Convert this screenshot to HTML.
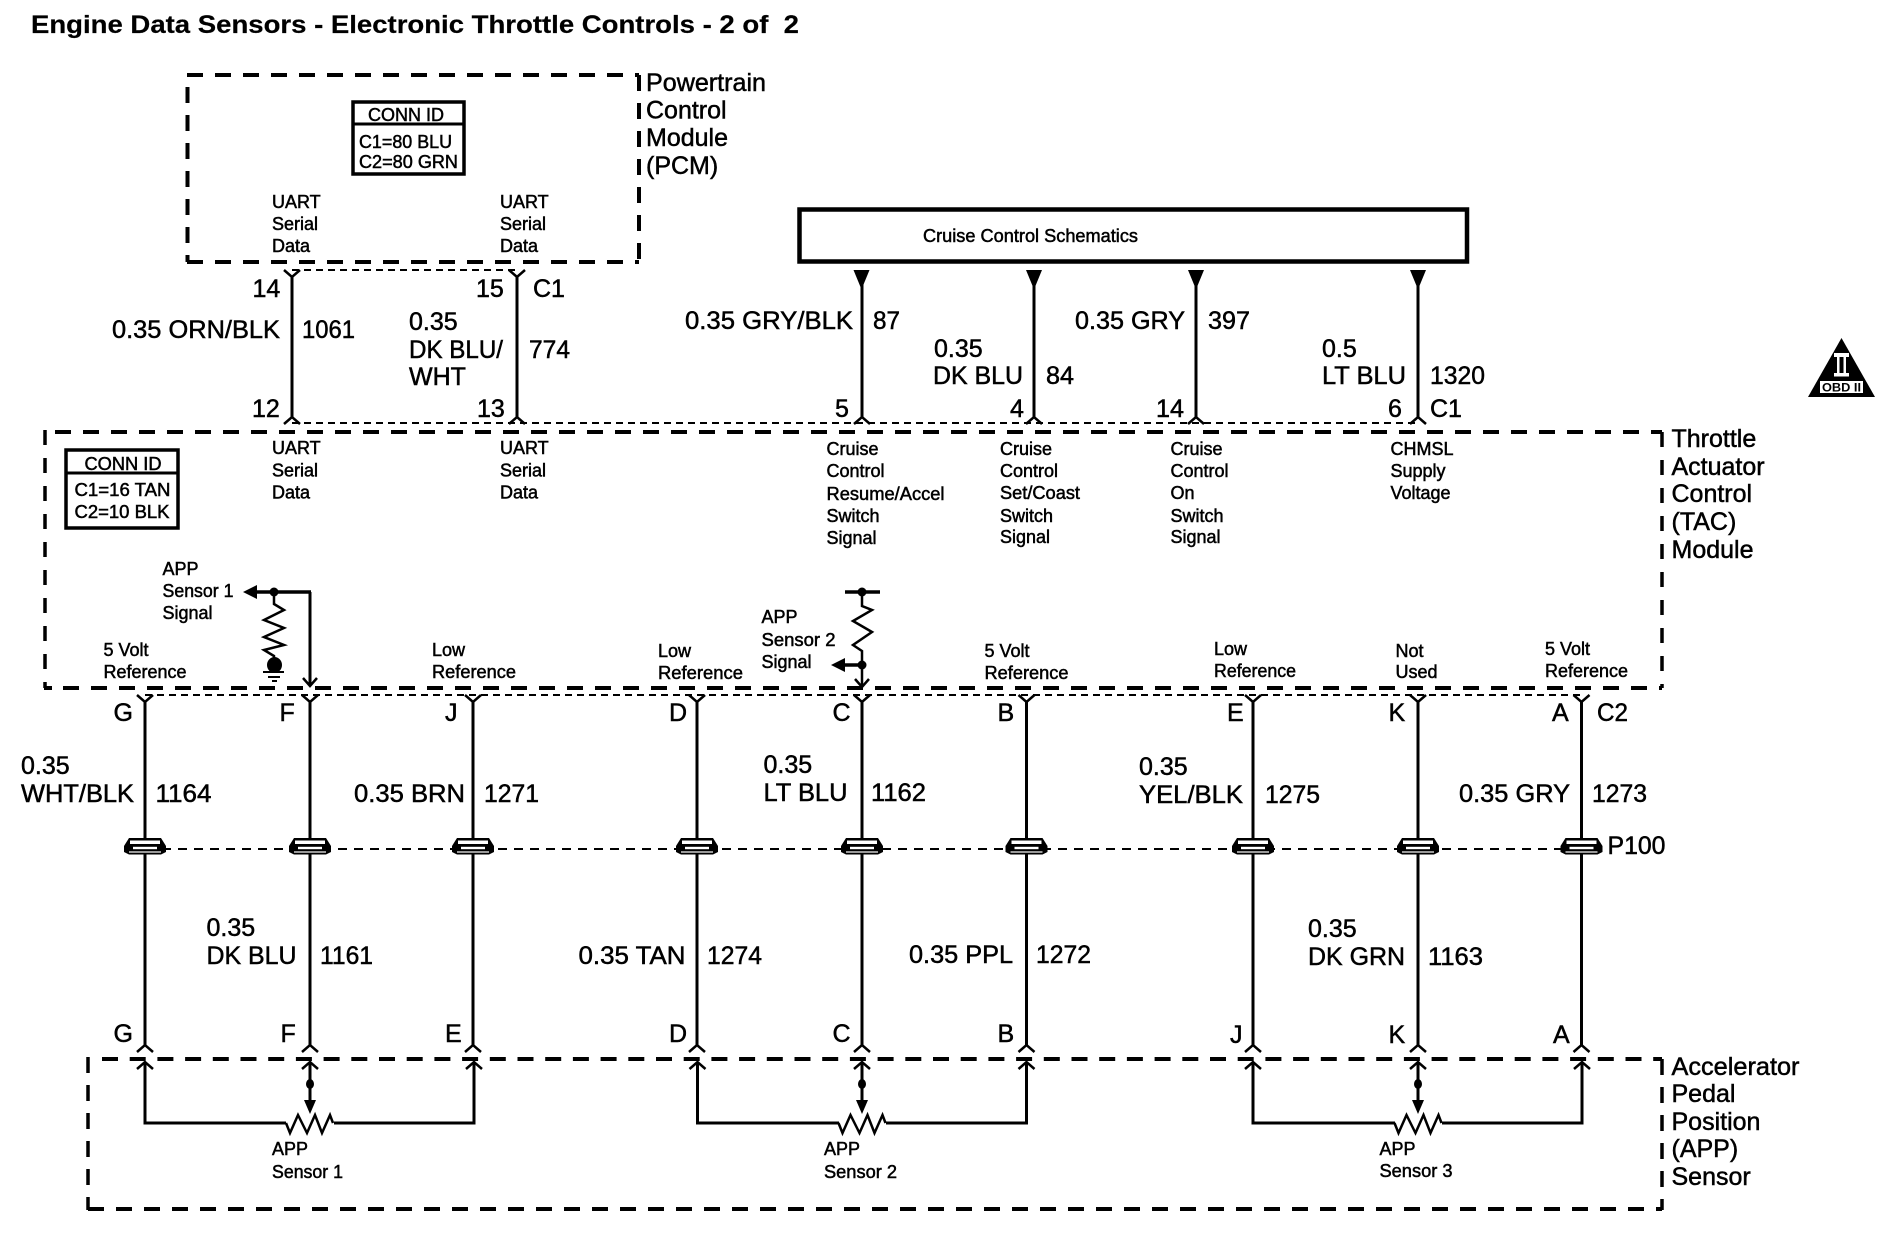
<!DOCTYPE html>
<html lang="en">
<head>
<meta charset="utf-8">
<title>Engine Data Sensors - Electronic Throttle Controls - 2 of 2</title>
<style>
html,body{margin:0;padding:0;background:#fff;width:1890px;height:1248px;overflow:hidden}
svg{display:block}
text{font-family:"Liberation Sans",Arial,sans-serif;fill:#000;stroke:#000;stroke-width:.5;white-space:pre}
.b{font-size:25px}
.s{font-size:18px}
.t{font-size:25px;font-weight:bold;stroke-width:.2}
.o{font-size:12px;font-weight:bold;stroke-width:0}
.box{fill:none;stroke:#000;stroke-width:4;stroke-dasharray:16 12}
.dot{fill:none;stroke:#000;stroke-width:2;stroke-dasharray:7 5}
.dot2{fill:none;stroke:#000;stroke-width:2;stroke-dasharray:9 7}
.w{fill:none;stroke:#000;stroke-width:3}
.n{fill:none;stroke:#000;stroke-width:2.5}
.h{fill:none;stroke:#000;stroke-width:3.5}
</style>
</head>
<body>
<svg width="1890" height="1248" viewBox="0 0 1890 1248" xmlns="http://www.w3.org/2000/svg">
<defs>
<g id="yc"><path class="n" d="M-8 0L0 7L8 0"/></g>
<g id="ac"><path class="n" d="M-8 7L0 0L8 7"/></g>
<g id="sp">
<path d="M-16 -11H16L21 -3V3L16 5.5H-16L-21 3V-3Z" fill="#000"/>
<rect x="-15" y="-8.5" width="30" height="3.5" fill="#fff"/>
<rect x="-12" y="-2.2" width="24" height="2.4" fill="#fff"/>
<rect x="-16" y="2.4" width="32" height="1.2" fill="#fff"/>
</g>
<g id="fa"><path d="M-8 -13H8L1 4H-1Z" fill="#000"/></g>
<g id="zz"><path class="n" d="M-24 0L-20 10L-12 -8L-3 10L5 -8L12 10L20 -8L23 0"/></g>
</defs>

<!-- Title -->
<text class="t" x="31" y="33" textLength="768" lengthAdjust="spacingAndGlyphs">Engine Data Sensors - Electronic Throttle Controls - 2 of  2</text>

<!-- PCM box -->
<line class="box" x1="187" y1="75" x2="639" y2="75"/>
<line class="box" x1="187" y1="262" x2="639" y2="262"/>
<line class="box" x1="187.5" y1="87" x2="187.5" y2="262"/>
<line class="box" x1="639" y1="75" x2="639" y2="262"/>
<text class="b" x="646" y="91" textLength="120" lengthAdjust="spacingAndGlyphs">Powertrain</text>
<text class="b" x="646" y="118.5">Control</text>
<text class="b" x="646" y="146">Module</text>
<text class="b" x="646" y="174">(PCM)</text>
<rect x="353" y="102" width="111" height="72" fill="none" stroke="#000" stroke-width="3.5"/>
<line x1="353" y1="124" x2="464" y2="124" stroke="#000" stroke-width="3"/>
<text class="s" x="368" y="121" textLength="76" lengthAdjust="spacingAndGlyphs">CONN ID</text>
<text class="s" x="359" y="148" textLength="93" lengthAdjust="spacingAndGlyphs">C1=80 BLU</text>
<text class="s" x="359" y="168" textLength="99" lengthAdjust="spacingAndGlyphs">C2=80 GRN</text>
<text class="s" x="272" y="208">UART</text><text class="s" x="272" y="230">Serial</text><text class="s" x="272" y="252">Data</text>
<text class="s" x="500" y="208">UART</text><text class="s" x="500" y="230">Serial</text><text class="s" x="500" y="252">Data</text>

<!-- Cruise box -->
<rect x="799.5" y="209.5" width="667.5" height="52" fill="none" stroke="#000" stroke-width="4.5"/>
<text class="s" x="923" y="242" textLength="215" lengthAdjust="spacingAndGlyphs">Cruise Control Schematics</text>

<!-- Upper connector rows -->
<line class="dot" x1="292" y1="270" x2="517" y2="270"/>
<line class="dot" x1="292" y1="423" x2="1418" y2="423"/>
<path class="w" d="M292 277V417M517 277V417M862 280V417M1034 280V417M1196 280V417M1418 280V417"/>
<use href="#yc" x="292" y="270"/><use href="#yc" x="517" y="270"/>
<use href="#ac" x="292" y="417"/><use href="#ac" x="517" y="417"/><use href="#ac" x="862" y="417"/><use href="#ac" x="1034" y="417"/><use href="#ac" x="1196" y="417"/><use href="#ac" x="1418" y="417"/>
<use href="#fa" x="861.5" y="283"/><use href="#fa" x="1034" y="283"/><use href="#fa" x="1196" y="283"/><use href="#fa" x="1418" y="283"/>

<!-- Upper wire labels -->
<text class="b" x="252.5" y="297">14</text>
<text class="b" x="476" y="297">15</text>
<text class="b" x="533" y="297">C1</text>
<text class="b" x="112" y="338" textLength="168" lengthAdjust="spacingAndGlyphs">0.35 ORN/BLK</text>
<text class="b" x="302" y="338" textLength="53" lengthAdjust="spacingAndGlyphs">1061</text>
<text class="b" x="409" y="330">0.35</text>
<text class="b" x="409" y="358" textLength="94" lengthAdjust="spacingAndGlyphs">DK BLU/</text>
<text class="b" x="409" y="385">WHT</text>
<text class="b" x="529" y="358" textLength="41" lengthAdjust="spacingAndGlyphs">774</text>
<text class="b" x="252" y="417">12</text>
<text class="b" x="477" y="417">13</text>
<text class="b" x="685" y="329" textLength="168" lengthAdjust="spacingAndGlyphs">0.35 GRY/BLK</text>
<text class="b" x="873" y="329" textLength="27" lengthAdjust="spacingAndGlyphs">87</text>
<text class="b" x="835" y="417">5</text>
<text class="b" x="934" y="357">0.35</text>
<text class="b" x="933" y="384" textLength="90" lengthAdjust="spacingAndGlyphs">DK BLU</text>
<text class="b" x="1046" y="384" textLength="28" lengthAdjust="spacingAndGlyphs">84</text>
<text class="b" x="1010" y="417">4</text>
<text class="b" x="1075" y="329" textLength="110" lengthAdjust="spacingAndGlyphs">0.35 GRY</text>
<text class="b" x="1208" y="329" textLength="42" lengthAdjust="spacingAndGlyphs">397</text>
<text class="b" x="1156" y="417" textLength="28" lengthAdjust="spacingAndGlyphs">14</text>
<text class="b" x="1322" y="357">0.5</text>
<text class="b" x="1322" y="384" textLength="84" lengthAdjust="spacingAndGlyphs">LT BLU</text>
<text class="b" x="1430" y="384" textLength="55" lengthAdjust="spacingAndGlyphs">1320</text>
<text class="b" x="1388" y="417">6</text>
<text class="b" x="1430" y="417">C1</text>

<!-- OBD II -->
<path d="M1841.5 338L1875 397H1808Z" fill="#000"/>
<rect x="1834" y="353" width="15" height="4" fill="#fff"/>
<rect x="1834" y="373" width="15" height="3.5" fill="#fff"/>
<rect x="1837" y="357" width="2.5" height="16" fill="#fff"/>
<rect x="1843.5" y="357" width="2.5" height="16" fill="#fff"/>
<rect x="1820" y="381" width="43" height="12" fill="#fff"/>
<text class="o" x="1822" y="391.5" textLength="39" lengthAdjust="spacingAndGlyphs">OBD II</text>

<!-- TAC box -->
<line class="box" x1="55" y1="432" x2="1662" y2="432"/>
<line class="box" x1="63" y1="688" x2="1662" y2="688"/>
<line class="box" x1="45" y1="430" x2="45" y2="688" style="stroke-dasharray:15 13;stroke-width:3.5"/>
<line class="box" x1="1662" y1="432" x2="1662" y2="688" style="stroke-dasharray:15 13;stroke-width:3.5"/>
<line x1="44" y1="688" x2="52" y2="688" stroke="#000" stroke-width="4"/>
<text class="b" x="1671.5" y="447">Throttle</text>
<text class="b" x="1671.5" y="475">Actuator</text>
<text class="b" x="1671.5" y="502">Control</text>
<text class="b" x="1671.5" y="530">(TAC)</text>
<text class="b" x="1671.5" y="558">Module</text>
<rect x="66" y="450" width="112" height="78" fill="none" stroke="#000" stroke-width="3.5"/>
<line x1="66" y1="473" x2="178" y2="473" stroke="#000" stroke-width="3"/>
<text class="s" x="84.5" y="470" textLength="77" lengthAdjust="spacingAndGlyphs">CONN ID</text>
<text class="s" x="74.5" y="496" textLength="96" lengthAdjust="spacingAndGlyphs">C1=16 TAN</text>
<text class="s" x="74.5" y="518" textLength="95" lengthAdjust="spacingAndGlyphs">C2=10 BLK</text>

<text class="s" x="272" y="454">UART</text><text class="s" x="272" y="476.5">Serial</text><text class="s" x="272" y="498.5">Data</text>
<text class="s" x="500" y="454">UART</text><text class="s" x="500" y="476.5">Serial</text><text class="s" x="500" y="498.5">Data</text>
<text class="s" x="826.5" y="455">Cruise</text><text class="s" x="826.5" y="477">Control</text><text class="s" x="826.5" y="500" textLength="118" lengthAdjust="spacingAndGlyphs">Resume/Accel</text><text class="s" x="826.5" y="522">Switch</text><text class="s" x="826.5" y="544">Signal</text>
<text class="s" x="1000" y="455">Cruise</text><text class="s" x="1000" y="477">Control</text><text class="s" x="1000" y="499" textLength="80" lengthAdjust="spacingAndGlyphs">Set/Coast</text><text class="s" x="1000" y="522">Switch</text><text class="s" x="1000" y="543">Signal</text>
<text class="s" x="1170.5" y="455">Cruise</text><text class="s" x="1170.5" y="477">Control</text><text class="s" x="1170.5" y="499">On</text><text class="s" x="1170.5" y="522">Switch</text><text class="s" x="1170.5" y="543">Signal</text>
<text class="s" x="1390.5" y="455">CHMSL</text><text class="s" x="1390.5" y="477">Supply</text><text class="s" x="1390.5" y="499">Voltage</text>

<text class="s" x="162.5" y="575">APP</text><text class="s" x="162.5" y="597" textLength="71" lengthAdjust="spacingAndGlyphs">Sensor 1</text><text class="s" x="162.5" y="619">Signal</text>
<text class="s" x="103.5" y="656">5 Volt</text><text class="s" x="103.5" y="678" textLength="83" lengthAdjust="spacingAndGlyphs">Reference</text>
<text class="s" x="432" y="656">Low</text><text class="s" x="432" y="678" textLength="84" lengthAdjust="spacingAndGlyphs">Reference</text>
<text class="s" x="658" y="657">Low</text><text class="s" x="658" y="679" textLength="85" lengthAdjust="spacingAndGlyphs">Reference</text>
<text class="s" x="761.5" y="623">APP</text><text class="s" x="761.5" y="646" textLength="74" lengthAdjust="spacingAndGlyphs">Sensor 2</text><text class="s" x="761.5" y="668">Signal</text>
<text class="s" x="984.5" y="657">5 Volt</text><text class="s" x="984.5" y="679" textLength="84" lengthAdjust="spacingAndGlyphs">Reference</text>
<text class="s" x="1214" y="655">Low</text><text class="s" x="1214" y="677" textLength="82" lengthAdjust="spacingAndGlyphs">Reference</text>
<text class="s" x="1395.5" y="657">Not</text><text class="s" x="1395.5" y="678">Used</text>
<text class="s" x="1545" y="655">5 Volt</text><text class="s" x="1545" y="677" textLength="83" lengthAdjust="spacingAndGlyphs">Reference</text>

<!-- APP sensor 1 signal circuit -->
<path d="M243 592L257 585V599Z" fill="#000"/>
<path class="h" d="M256 592H311"/>
<path class="w" d="M310 592V686"/>
<path class="n" d="M303 678L310 686L317 678"/>
<circle cx="274" cy="592" r="4.5" fill="#000"/>
<path class="n" d="M274 592V604L284 610L264 620L284 628L264 637L284 645L264 650L274 656V662"/>
<ellipse cx="274.5" cy="665" rx="7.5" ry="8" fill="#000"/>
<path d="M263 672H284M268 677H280M272 681H277" stroke="#000" stroke-width="2" fill="none"/>

<!-- APP sensor 2 signal circuit -->
<path class="h" d="M845 592H880"/>
<circle cx="862" cy="592" r="4.5" fill="#000"/>
<path class="n" d="M862 592V606L872 610L853 621L872 632L853 645L862 651V687"/>
<path d="M831 665L845 658V672Z" fill="#000"/>
<path class="h" d="M844 665H862"/>
<circle cx="862" cy="665" r="4.5" fill="#000"/>
<path class="n" d="M855 679L862 687L869 679"/>

<!-- Lower connector rows -->
<line class="dot" x1="145" y1="695" x2="1582" y2="695"/>
<line class="dot2" x1="146" y1="849" x2="1582" y2="849"/>
<path class="w" d="M145 702V1045M310 702V1045M473 702V1045M697 702V1045M862 702V1045M1026.5 702V1045M1253 702V1045M1418 702V1045M1581.5 702V1045"/>
<use href="#yc" x="145" y="695"/><use href="#yc" x="310" y="695"/><use href="#yc" x="473" y="695"/><use href="#yc" x="697" y="695"/><use href="#yc" x="862" y="695"/><use href="#yc" x="1026.5" y="695"/><use href="#yc" x="1253" y="695"/><use href="#yc" x="1418" y="695"/><use href="#yc" x="1581.5" y="695"/>
<use href="#sp" x="145" y="849"/><use href="#sp" x="310" y="849"/><use href="#sp" x="473" y="849"/><use href="#sp" x="697" y="849"/><use href="#sp" x="862" y="849"/><use href="#sp" x="1026.5" y="849"/><use href="#sp" x="1253" y="849"/><use href="#sp" x="1418" y="849"/><use href="#sp" x="1581.5" y="849"/>
<use href="#ac" x="145" y="1045"/><use href="#ac" x="310" y="1045"/><use href="#ac" x="473" y="1045"/><use href="#ac" x="697" y="1045"/><use href="#ac" x="862" y="1045"/><use href="#ac" x="1026.5" y="1045"/><use href="#ac" x="1253" y="1045"/><use href="#ac" x="1418" y="1045"/><use href="#ac" x="1581.5" y="1045"/>

<!-- Lower wire labels -->
<text class="b" x="113.5" y="721">G</text>
<text class="b" x="279.5" y="721">F</text>
<text class="b" x="445" y="721">J</text>
<text class="b" x="669" y="721">D</text>
<text class="b" x="832.5" y="721">C</text>
<text class="b" x="997.5" y="721">B</text>
<text class="b" x="1227" y="721">E</text>
<text class="b" x="1388.5" y="721">K</text>
<text class="b" x="1552" y="721">A</text>
<text class="b" x="1597" y="721" textLength="31" lengthAdjust="spacingAndGlyphs">C2</text>
<text class="b" x="21" y="774">0.35</text>
<text class="b" x="21" y="802" textLength="113" lengthAdjust="spacingAndGlyphs">WHT/BLK</text>
<text class="b" x="155.5" y="802" textLength="56" lengthAdjust="spacingAndGlyphs">1164</text>
<text class="b" x="354" y="802" textLength="111" lengthAdjust="spacingAndGlyphs">0.35 BRN</text>
<text class="b" x="484" y="802" textLength="55" lengthAdjust="spacingAndGlyphs">1271</text>
<text class="b" x="763.5" y="773">0.35</text>
<text class="b" x="763.5" y="801" textLength="84" lengthAdjust="spacingAndGlyphs">LT BLU</text>
<text class="b" x="871" y="801" textLength="55" lengthAdjust="spacingAndGlyphs">1162</text>
<text class="b" x="1139" y="775">0.35</text>
<text class="b" x="1139" y="803" textLength="104" lengthAdjust="spacingAndGlyphs">YEL/BLK</text>
<text class="b" x="1265" y="803" textLength="55" lengthAdjust="spacingAndGlyphs">1275</text>
<text class="b" x="1459" y="802" textLength="111" lengthAdjust="spacingAndGlyphs">0.35 GRY</text>
<text class="b" x="1592" y="802" textLength="55" lengthAdjust="spacingAndGlyphs">1273</text>
<text class="b" x="1607.5" y="854" textLength="58" lengthAdjust="spacingAndGlyphs">P100</text>
<text class="b" x="206.5" y="936">0.35</text>
<text class="b" x="206.5" y="964" textLength="90" lengthAdjust="spacingAndGlyphs">DK BLU</text>
<text class="b" x="320" y="964" textLength="53" lengthAdjust="spacingAndGlyphs">1161</text>
<text class="b" x="578.5" y="964" textLength="107" lengthAdjust="spacingAndGlyphs">0.35 TAN</text>
<text class="b" x="707" y="964" textLength="55" lengthAdjust="spacingAndGlyphs">1274</text>
<text class="b" x="909" y="963" textLength="104" lengthAdjust="spacingAndGlyphs">0.35 PPL</text>
<text class="b" x="1036" y="963" textLength="55" lengthAdjust="spacingAndGlyphs">1272</text>
<text class="b" x="1308" y="937">0.35</text>
<text class="b" x="1308" y="965" textLength="97" lengthAdjust="spacingAndGlyphs">DK GRN</text>
<text class="b" x="1428" y="965" textLength="55" lengthAdjust="spacingAndGlyphs">1163</text>
<text class="b" x="113.5" y="1042">G</text>
<text class="b" x="280.5" y="1042">F</text>
<text class="b" x="445" y="1042">E</text>
<text class="b" x="669" y="1042">D</text>
<text class="b" x="832.5" y="1042">C</text>
<text class="b" x="997.5" y="1042">B</text>
<text class="b" x="1230" y="1043">J</text>
<text class="b" x="1388.5" y="1043">K</text>
<text class="b" x="1553" y="1043">A</text>

<!-- APP sensor box -->
<line class="box" x1="93" y1="1059" x2="1662" y2="1059" style="stroke-dasharray:16 11.7;stroke-dashoffset:-9"/>
<line class="box" x1="88" y1="1209" x2="1662" y2="1209"/>
<line class="box" x1="88" y1="1057" x2="88" y2="1210" style="stroke-dasharray:16 12;stroke-width:3.5"/>
<line class="box" x1="1662" y1="1059" x2="1662" y2="1210" style="stroke-dasharray:16 12;stroke-width:3.5"/>
<text class="b" x="1671.5" y="1075" textLength="128" lengthAdjust="spacingAndGlyphs">Accelerator</text>
<text class="b" x="1671.5" y="1102">Pedal</text>
<text class="b" x="1671.5" y="1130">Position</text>
<text class="b" x="1671.5" y="1157">(APP)</text>
<text class="b" x="1671.5" y="1185">Sensor</text>

<!-- Sensor internals -->
<path class="w" d="M145 1063V1123H286M334 1123H474V1063"/>
<path class="w" d="M697.5 1063V1123H839M886 1123H1026.5V1063"/>
<path class="w" d="M1253 1063V1123H1395M1442 1123H1582V1063"/>
<path class="w" d="M310 1063V1104M862 1063V1104M1418 1063V1104"/>
<use href="#ac" x="145" y="1062"/><use href="#ac" x="310" y="1062"/><use href="#ac" x="474" y="1062"/><use href="#ac" x="697.5" y="1062"/><use href="#ac" x="862" y="1062"/><use href="#ac" x="1026.5" y="1062"/><use href="#ac" x="1253" y="1062"/><use href="#ac" x="1418" y="1062"/><use href="#ac" x="1582" y="1062"/>
<ellipse cx="310" cy="1084" rx="4" ry="5" fill="#000"/><ellipse cx="862" cy="1084" rx="4" ry="5" fill="#000"/><ellipse cx="1418" cy="1084" rx="4" ry="5" fill="#000"/>
<path d="M304 1100H316L310 1114Z" fill="#000"/><path d="M856 1100H868L862 1114Z" fill="#000"/><path d="M1412 1100H1424L1418 1114Z" fill="#000"/>
<use href="#zz" x="310" y="1123"/><use href="#zz" x="862.5" y="1123"/><use href="#zz" x="1418.5" y="1123"/>
<text class="s" x="272" y="1155">APP</text><text class="s" x="272" y="1178" textLength="71" lengthAdjust="spacingAndGlyphs">Sensor 1</text>
<text class="s" x="824" y="1155">APP</text><text class="s" x="824" y="1178" textLength="73" lengthAdjust="spacingAndGlyphs">Sensor 2</text>
<text class="s" x="1379.5" y="1155">APP</text><text class="s" x="1379.5" y="1177" textLength="73" lengthAdjust="spacingAndGlyphs">Sensor 3</text>
</svg>
</body>
</html>
